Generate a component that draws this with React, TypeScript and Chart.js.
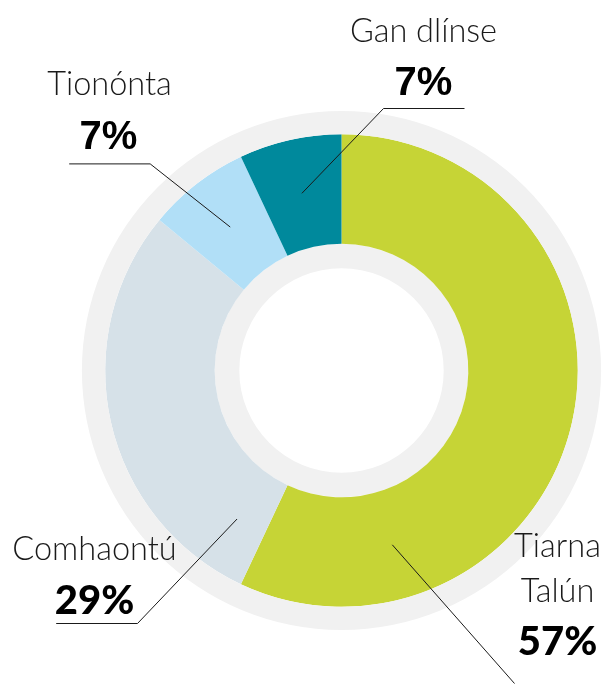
import React, { useEffect, useRef } from "react";
import { Chart, registerables } from "chart.js";

Chart.register(...registerables);

// ---- data ----
const categories = ["Tiarna Talún", "Comhaontú", "Tionónta", "Gan dlínse"];
const shares = [57, 29, 7, 7];
const percentLabels = ["57%", "29%", "7%", "7%"];
const nameLines = [["Tiarna", "Talún"], ["Comhaontú"], ["Tionónta"], ["Gan dlínse"]];
const colors = ["#c6d436", "#d6e1e8", "#b1dff7", "#00899c"];

// ---- annotation layout (relative to the doughnut centre) ----
type Ann = {
  t: number;
  elbow: [number, number];
  lineEndX: number | null;
  nameX: number;
  nameY: number[];
  pctX: number;
  pctY: number;
  pctFont: string;
};
const annotations: Ann[] = [
  { t: 0.798, elbow: [173, 313], lineEndX: null, nameX: 216, nameY: [186.4, 231.4], pctX: 216, pctY: 284.7, pctFont: "900 40px Lato, 'Open Sans', sans-serif" },
  { t: 0.095, elbow: [-204, 253], lineEndX: -285.3, nameX: -247, nameY: [189], pctX: -247, pctY: 243, pctFont: "900 40px Lato, 'Open Sans', sans-serif" },
  { t: 0.5, elbow: [-191.3, -206.6], lineEndX: -272.3, nameX: -232, nameY: [-275.3], pctX: -233, pctY: -222, pctFont: "bold 40px 'Liberation Sans', Arial, sans-serif" },
  { t: 0.5, elbow: [42, -262], lineEndX: 123, nameX: 82, nameY: [-328.6], pctX: 82, pctY: -275.3, pctFont: "bold 40px 'Liberation Sans', Arial, sans-serif" },
];

const labelPlugin = {
  id: "leaderLabels",
  afterDraw(chart: any) {
    const meta = chart.getDatasetMeta(1);
    const ctx = chart.ctx as CanvasRenderingContext2D;
    ctx.save();
    meta.data.forEach((el: any, i: number) => {
      const p = el.getProps(["x", "y", "startAngle", "endAngle", "innerRadius", "outerRadius"], true);
      const a = annotations[i];
      const ang = p.startAngle + a.t * (p.endAngle - p.startAngle);
      const r = (p.innerRadius + p.outerRadius) / 2;
      const sx = p.x + r * Math.cos(ang);
      const sy = p.y + r * Math.sin(ang);
      const ex = p.x + a.elbow[0];
      const ey = p.y + a.elbow[1];
      ctx.strokeStyle = "#1a1a1a";
      ctx.lineWidth = 1;
      ctx.beginPath();
      ctx.moveTo(sx, sy);
      ctx.lineTo(ex, ey);
      if (a.lineEndX !== null) ctx.lineTo(p.x + a.lineEndX, ey);
      ctx.stroke();

      ctx.textAlign = "center";
      ctx.textBaseline = "alphabetic";
      ctx.fillStyle = "#1a1a1a";
      ctx.font = "300 32.5px Lato, 'Open Sans', sans-serif";
      nameLines[i].forEach((line, k) => {
        ctx.fillText(line, p.x + a.nameX, p.y + a.nameY[k]);
      });
      ctx.fillStyle = "#000";
      ctx.font = a.pctFont;
      ctx.fillText(percentLabels[i], p.x + a.pctX, p.y + a.pctY);
    });
    ctx.restore();
  },
};

export default function App() {
  const ref = useRef<HTMLCanvasElement>(null);
  useEffect(() => {
    if (!ref.current) return;
    const chart = new Chart(ref.current, {
      type: "doughnut",
      data: {
        labels: categories,
        datasets: [
          { data: [1], backgroundColor: ["#f1f1f1"], borderWidth: 0, weight: 23.3 } as any,
          { data: shares, backgroundColor: colors, borderWidth: 0, weight: 109.5 } as any,
          { data: [1], backgroundColor: ["#f1f1f1"], borderWidth: 0, weight: 24.6 } as any,
        ],
      },
      options: {
        responsive: false,
        animation: false,
        radius: 259.6,
        cutout: "39.37%",
        layout: { padding: { left: 74, right: 0, top: 57, bottom: 0 } },
        plugins: { legend: { display: false }, tooltip: { enabled: false } },
        events: [],
      } as any,
      plugins: [labelPlugin],
    });
    return () => chart.destroy();
  }, []);
  return (
    <div style={{ position: "absolute", left: 0, top: 0, width: 609, height: 684, background: "#fff" }}>
      <canvas ref={ref} width={609} height={684} style={{ width: 609, height: 684 }} />
    </div>
  );
}
